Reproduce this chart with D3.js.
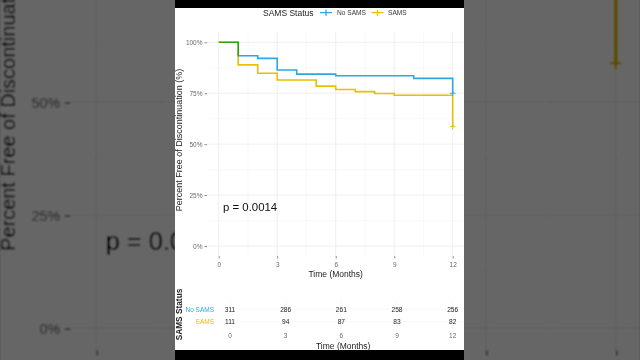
<!DOCTYPE html>
<html><head><meta charset="utf-8">
<script src="https://cdn.jsdelivr.net/npm/d3@7"></script>
<style>html,body{margin:0;padding:0;background:#666;}svg{display:block;font-family:"Liberation Sans",Arial,sans-serif;}</style>
</head><body>
<script>
// ---- data ----
const groups = ["No SAMS", "SAMS"];
const groupColors = ["#2EA6DF", "#E7C000"];
const noSamsTime = [0, 1, 2, 3, 4, 6, 10, 12];
const noSamsSurv = [100, 93.4, 92.1, 86.4, 84.4, 83.6, 82.3, 75.0];
const samsTime = [0, 1, 2, 3, 5, 6, 7, 8, 9, 12];
const samsSurv = [100, 88.9, 84.8, 81.5, 78.5, 76.8, 75.8, 74.9, 74.0, 58.6];
const xTicks = [0, 3, 6, 9, 12];
const yTicks = [0, 25, 50, 75, 100];
const riskTimes = [0, 3, 6, 9, 12];
const riskNoSams = [311, 286, 261, 258, 256];
const riskSams = [111, 94, 87, 83, 82];
const pText = "p = 0.0014";

// ---- layout ----
const W = 640, H = 360;
const F = {x0: 175, x1: 464, top: 8, bottom: 350};
const panel = {x0: 207, x1: 464.4, y0: 32, y1: 256};
const x = d3.scaleLinear().domain([0, 12]).range([218.7, 452.7]);
const y = d3.scaleLinear().domain([0, 100]).range([246, 42.3]);
const xr = d3.scaleLinear().domain([0, 12]).range([230, 452.7]);
const rowY = d3.scalePoint().domain(groups).range([309.3, 321.7]);

const svg = d3.select("body").append("svg").attr("width", W).attr("height", H);
const defs = svg.append("defs");
const filt = defs.append("filter").attr("id", "blur").attr("filterUnits", "userSpaceOnUse")
  .attr("x", -60).attr("y", -60).attr("width", W + 120).attr("height", H + 120);
filt.append("feGaussianBlur").attr("stdDeviation", 1.3).attr("result", "b");
const ct = filt.append("feComponentTransfer").attr("in", "b");
["R", "G", "B"].forEach(c => ct.append("feFunc" + c).attr("type", "linear").attr("slope", 1.25).attr("intercept", -0.2));
defs.append("clipPath").attr("id", "pclip").append("rect")
  .attr("x", F.x0).attr("y", 0).attr("width", F.x1 - F.x0).attr("height", H);

// blurred, enlarged background copy of the frame
svg.append("g").attr("filter", "url(#blur)")
  .append("use").attr("href", "#frame")
  .attr("transform", "translate(320,180) scale(2.22) translate(-319.5,-179.3)");
svg.append("rect").attr("width", W).attr("height", H).attr("fill", "#000").attr("opacity", 0.6);

const frame = svg.append("g").attr("id", "frame");
frame.append("rect").attr("x", F.x0).attr("y", 0).attr("width", F.x1 - F.x0).attr("height", H).attr("fill", "#000");
frame.append("rect").attr("x", F.x0).attr("y", F.top).attr("width", F.x1 - F.x0).attr("height", F.bottom - F.top).attr("fill", "#fff");

const g = frame.append("g").attr("clip-path", "url(#pclip)");

// gridlines
const mid = a => a.slice(1).map((d, i) => (d + a[i]) / 2);
const grid = g.append("g");
grid.selectAll(".vmin").data(mid(xTicks)).join("line")
  .attr("x1", d => x(d)).attr("x2", d => x(d)).attr("y1", panel.y0).attr("y2", panel.y1)
  .attr("stroke", "#f2f2f2").attr("stroke-width", 0.5);
grid.selectAll(".hmin").data(mid(yTicks)).join("line")
  .attr("y1", d => y(d)).attr("y2", d => y(d)).attr("x1", panel.x0).attr("x2", panel.x1)
  .attr("stroke", "#f2f2f2").attr("stroke-width", 0.5);
grid.selectAll(".vmaj").data(xTicks).join("line")
  .attr("x1", d => x(d)).attr("x2", d => x(d)).attr("y1", panel.y0).attr("y2", panel.y1)
  .attr("stroke", "#ebebeb").attr("stroke-width", 0.8);
grid.selectAll(".hmaj").data(yTicks).join("line")
  .attr("y1", d => y(d)).attr("y2", d => y(d)).attr("x1", panel.x0).attr("x2", panel.x1)
  .attr("stroke", "#ebebeb").attr("stroke-width", 0.8);

// axes
const yAxis = d3.axisLeft(y).tickValues(yTicks).tickFormat(d => d + "%").tickSize(2.5).tickPadding(2);
const ya = g.append("g").attr("transform", `translate(${panel.x0},0)`).call(yAxis);
const xAxis = d3.axisBottom(x).tickValues(xTicks).tickSize(2.5).tickPadding(4);
const xa = g.append("g").attr("transform", `translate(0,${panel.y1})`).call(xAxis);
[ya, xa].forEach(a => {
  a.select(".domain").remove();
  a.selectAll(".tick line").attr("stroke", "#444").attr("stroke-width", 0.6);
  a.selectAll(".tick text").attr("fill", "#6a6a6a").style("font-size", "6.5px").style("font-family", "Liberation Sans, Arial, sans-serif");
});

// curves
const series = [
  {name: groups[0], pts: noSamsTime.map((t, i) => [t, noSamsSurv[i]])},
  {name: groups[1], pts: samsTime.map((t, i) => [t, samsSurv[i]])}
];
const line = d3.line().x(d => x(d[0])).y(d => y(d[1])).curve(d3.curveStepAfter);
series.forEach((s, i) => {
  g.append("path").attr("d", line(s.pts)).attr("fill", "none")
    .attr("stroke", groupColors[i]).attr("stroke-width", 1.6)
    .style("mix-blend-mode", i === 1 ? "darken" : "normal");
});
series.forEach((s, i) => {
  const last = s.pts[s.pts.length - 1];
  const cx = x(last[0]), cy = y(last[1]);
  g.append("path").attr("d", `M${cx - 2.8},${cy}H${cx + 2.8}M${cx},${cy - 2.8}V${cy + 2.8}`)
    .attr("stroke", groupColors[i]).attr("stroke-width", 1);
});

// p-value
g.append("text").attr("x", 223).attr("y", 211).text(pText).attr("fill", "#111").style("font-size", "11.4px");

// axis titles
g.append("text").attr("transform", "translate(182,140) rotate(-90)").attr("text-anchor", "middle")
  .text("Percent Free of Discontinuation (%)").attr("fill", "#222").style("font-size", "9px");
g.append("text").attr("x", x(6)).attr("y", 276.5).attr("text-anchor", "middle")
  .text("Time (Months)").attr("fill", "#222").style("font-size", "8.5px");

// legend
const leg = g.append("g");
leg.append("text").attr("x", 263).attr("y", 15.6).text("SAMS Status").attr("fill", "#222").style("font-size", "8.5px");
const keyX = [320, 371.5], labX = [337, 388];
groups.forEach((gr, i) => {
  const ky = 12.7;
  leg.append("path").attr("d", `M${keyX[i]},${ky}H${keyX[i] + 12}M${keyX[i] + 6},${ky - 3}V${ky + 3}`)
    .attr("stroke", groupColors[i]).attr("stroke-width", 1.3);
  leg.append("text").attr("x", labX[i]).attr("y", ky).attr("dy", "0.35em").text(gr)
    .attr("fill", "#333").style("font-size", "6.6px");
});

// risk table
const rt = g.append("g");
rt.selectAll(".rv").data(riskTimes).join("line")
  .attr("x1", d => xr(d)).attr("x2", d => xr(d)).attr("y1", 300).attr("y2", 329)
  .attr("stroke", "#f3f3f3").attr("stroke-width", 0.6);
rt.selectAll(".rh").data(groups).join("line")
  .attr("y1", d => rowY(d)).attr("y2", d => rowY(d)).attr("x1", 219).attr("x2", 464)
  .attr("stroke", "#f3f3f3").attr("stroke-width", 0.6);
rt.append("text").attr("transform", "translate(182.2,314.5) rotate(-90)").attr("text-anchor", "middle")
  .text("SAMS Status").attr("fill", "#222").attr("font-weight", "bold").style("font-size", "8.3px");
groups.forEach((gr, i) => {
  rt.append("text").attr("x", 214).attr("y", rowY(gr)).attr("dy", "0.35em").attr("text-anchor", "end")
    .text(gr).attr("fill", groupColors[i]).style("font-size", "6.5px");
  const vals = i === 0 ? riskNoSams : riskSams;
  rt.selectAll(".rn" + i).data(riskTimes).join("text")
    .attr("x", d => xr(d)).attr("y", rowY(gr)).attr("dy", "0.35em").attr("text-anchor", "middle")
    .text((d, j) => vals[j]).attr("fill", "#222").style("font-size", "6.6px");
});
rt.selectAll(".rx").data(riskTimes).join("text")
  .attr("x", d => xr(d)).attr("y", 335.7).attr("dy", "0.35em").attr("text-anchor", "middle")
  .text(d => d).attr("fill", "#6a6a6a").style("font-size", "6.5px");
rt.append("text").attr("x", xr(6.1)).attr("y", 349).attr("text-anchor", "middle")
  .text("Time (Months)").attr("fill", "#222").style("font-size", "8.5px");
</script>
</body></html>
